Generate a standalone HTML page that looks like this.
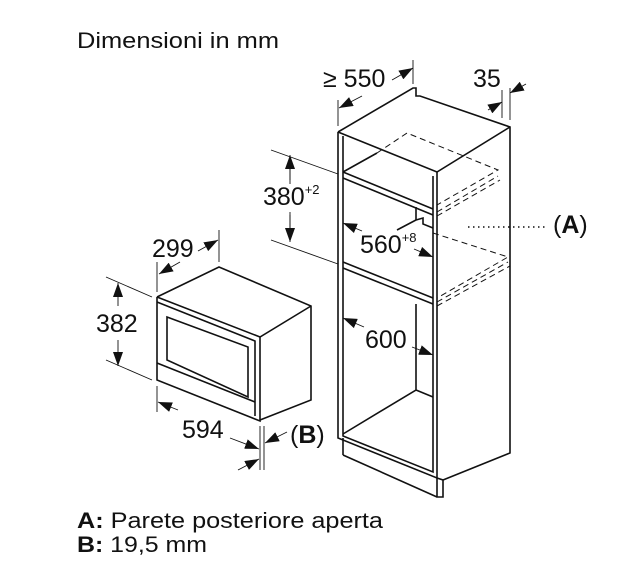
<!DOCTYPE html>
<html><head><meta charset="utf-8"><style>
html,body{margin:0;padding:0;background:#fff;}
svg{display:block;}
text{font-family:"Liberation Sans",Arial,sans-serif;fill:#111;}
</style></head><body>
<svg width="640" height="569" viewBox="0 0 640 569" xmlns="http://www.w3.org/2000/svg">
<defs>
<marker id="ar" viewBox="0 0 14 10" refX="14" refY="5" markerWidth="14" markerHeight="10" orient="auto-start-reverse" markerUnits="userSpaceOnUse"><path d="M0,0 L14,5 L0,10 Z" fill="#111"/></marker>
</defs>
<text x="77" y="48" font-size="22" textLength="202" lengthAdjust="spacingAndGlyphs">Dimensioni in mm</text>

<g stroke="#111" fill="none" stroke-width="1.6">
<path d="M338,132 L413,88 L416,88 L416,96 L420,96 L510,127 L510,453 L443,480" />
<path d="M338,132 L437,172 L510,127" />
<path d="M338,132 L338,438 L437,478 L437,172" />
<path d="M343,136 L343,436 L433,472 L433,176" />
<path d="M343,455 L343,438 M343,455 L437,497 M437,478 L443,480 L443,497 L437,497 L437,478" />
<path d="M343,172 L433,209 M343,178 L433,215" />
<path d="M343,262 L433,298 M343,268 L433,304" />
<path d="M343,172 L377,153" />
<path d="M416,207 L416,220 L397,230 M416,220 L423,218 L423,224 L433,228" />
<path d="M416,304 L416,390 L343,434 M416,390 L433,397" />
</g>
<g stroke="#111" fill="none" stroke-width="1" stroke-dasharray="6,4">
<path d="M377,153 L407,133 L498,170 L437,205" />
<path d="M437,212 L498,176 M437,216 L500,180" />
<path d="M433,233 L508,257 L437,298 M437,302 L508,262 M437,306 L510,266" />
</g>
<path d="M468,227 L547,227" stroke="#111" stroke-width="1.5" stroke-dasharray="1.5,3.5" fill="none"/>
<text x="553" y="233" font-size="25">(<tspan font-weight="bold">A</tspan>)</text>

<g stroke="#111" fill="none" stroke-width="0.9">
<path d="M338,126 L338,100 M413,84 L413,60" />
<path d="M510,120 L510,88 M502,118 L502,90" />
<path d="M271,150 L338,174 M271,240 L338,264" />
<path d="M290,160 L290,184 M290,212 L290,232" />
</g>
<g stroke="#111" stroke-width="0.9" fill="none">
<path d="M362,96 L339,108" marker-end="url(#ar)" />
<path d="M392,80 L413,68" marker-end="url(#ar)" />
<path d="M488,110 L502,102" marker-end="url(#ar)" />
<path d="M526,84 L510,93" marker-end="url(#ar)" />
<path d="M290,180 L290,155" marker-end="url(#ar)" />
<path d="M290,215 L290,242" marker-end="url(#ar)" />
<path d="M362,231 L343,223" marker-end="url(#ar)" />
<path d="M414,249 L433,257" marker-end="url(#ar)" />
<path d="M364,327 L343,318" marker-end="url(#ar)" />
<path d="M412,347 L433,355" marker-end="url(#ar)" />
</g>
<text x="323" y="87" font-size="25">≥ 550</text>
<text x="473" y="87" font-size="25">35</text>
<text x="263" y="205" font-size="25">380<tspan font-size="13" dy="-11">+2</tspan></text>
<text x="360" y="253" font-size="25">560<tspan font-size="13" dy="-11">+8</tspan></text>
<text x="365" y="348" font-size="25">600</text>

<g stroke="#111" fill="none" stroke-width="1.6">
<path d="M157,297 L219,267 L311,306 L311,400 L260,420" />
<path d="M157,297 L260,337 L311,306" />
<path d="M157,297 L157,380 L260,421 L260,337" />
<path d="M157,302 L255,341 L255,416" />
<path d="M167,317 L248,347 L248,397 L167,360 Z" />
<path d="M157,363 L255,402" />
<path d="M165,300 L260,337" stroke-width="0.8"/>
</g>
<g stroke="#111" fill="none" stroke-width="0.9">
<path d="M219,262 L219,230 M157,292 L157,262" />
<path d="M106,277 L152,297 M106,360 L152,380" />
<path d="M157,386 L157,412 M260,426 L260,470 M264,426 L264,470" />
</g>
<g stroke="#111" stroke-width="0.9" fill="none">
<path d="M180,262 L159,274" marker-end="url(#ar)" />
<path d="M198,251 L218,240" marker-end="url(#ar)" />
<path d="M118,306 L118,283" marker-end="url(#ar)" />
<path d="M118,340 L118,366" marker-end="url(#ar)" />
<path d="M178,410 L158,402" marker-end="url(#ar)" />
<path d="M230,438 L259,449" marker-end="url(#ar)" />
<path d="M287,432 L265,443" marker-end="url(#ar)" />
<path d="M238,470 L259,459" marker-end="url(#ar)" />
</g>
<text x="152" y="257" font-size="25">299</text>
<text x="96" y="332" font-size="25">382</text>
<text x="182" y="438" font-size="25">594</text>
<text x="290" y="443" font-size="25">(<tspan font-weight="bold">B</tspan>)</text>

<text x="77" y="528" font-size="22" textLength="306" lengthAdjust="spacingAndGlyphs"><tspan font-weight="bold">A:</tspan> Parete posteriore aperta</text>
<text x="77" y="552" font-size="22" textLength="130" lengthAdjust="spacingAndGlyphs"><tspan font-weight="bold">B:</tspan> 19,5 mm</text>
</svg>
</body></html>
